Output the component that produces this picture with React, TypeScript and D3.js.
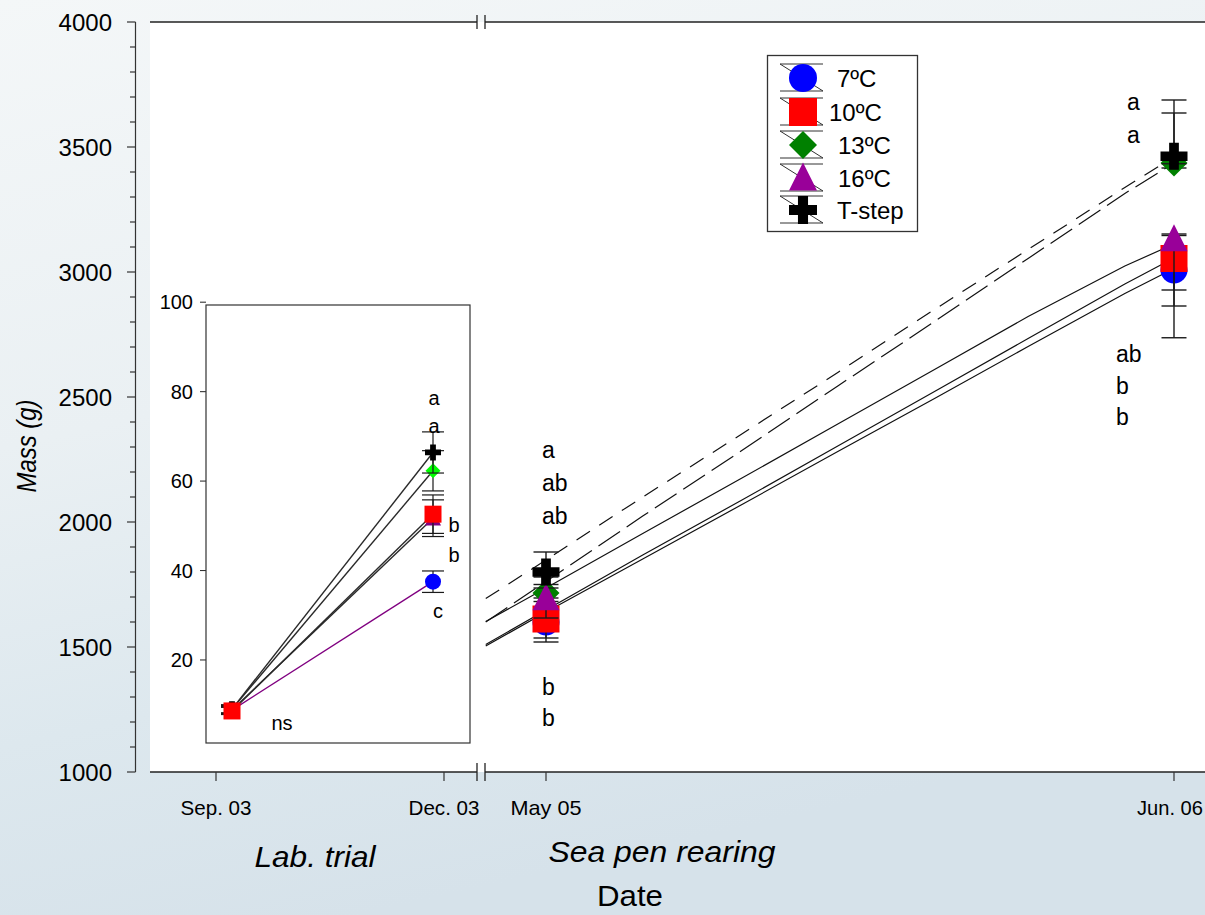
import React from "react";
import * as d3 from "d3";

const FONT = "'Liberation Sans', Arial, Helvetica, sans-serif";

// ---------- categories ----------
const seriesNames = ["7ºC", "10ºC", "13ºC", "16ºC", "T-step"];

// ---------- Lab trial (inset), mass in g ----------
const labDates = ["2003-09-01", "2003-12-01"];
const labMass7 = [8.8, 37.5];
const labMass10 = [8.6, 52.6];
const labMass13 = [9.0, 62.3];
const labMass16 = [8.8, 51.7];
const labMassT = [9.0, 66.4];
const labErr7 = [0.8, 2.4];
const labErr10 = [0.8, 4.3];
const labErr13 = [0.8, 4.5];
const labErr16 = [0.8, 4.1];
const labErrT = [1.0, 4.6];
const labEndLetters = ["a", "a", "b", "b", "c"];
const labStartLetter = "ns";
const insetTicks = [20, 40, 60, 80, 100];

// ---------- Sea pen rearing, mass in g ----------
const seaDates = ["2005-05-01", "2006-06-01"];
const seaMass7 = [1600, 3008];
const seaMass10 = [1612, 3054];
const seaMass13 = [1716, 3436];
const seaMass16 = [1696, 3132];
const seaMassT = [1800, 3463];
const seaErrUp7 = [60, 70];
const seaErrDown7 = [80, 80];
const seaErrUp10 = [70, 92];
const seaErrDown10 = [76, 190];
const seaErrUp13 = [64, 200];
const seaErrDown13 = [20, 20];
const seaErrUp16 = [40, 20];
const seaErrDown16 = [80, 395];
const seaErrUpT = [80, 225];
const seaErrDownT = [50, 30];
const mayLetters = ["a", "ab", "ab", "b", "b"];
const junLetters = ["a", "a", "ab", "b", "b"];

// ---------- growth curves (sea pen) ----------
const curveDates = [
  "2005-03-24", "2005-05-01", "2005-07-01", "2005-09-01", "2005-11-01",
  "2006-01-01", "2006-03-01", "2006-05-01", "2006-06-01",
];
const curve7 = [1504, 1640, 1852, 2068, 2282, 2494, 2702, 2914, 3014];
const curve10 = [1510, 1648, 1868, 2086, 2304, 2522, 2734, 2952, 3056];
const curve13 = [1600, 1762, 2024, 2284, 2544, 2802, 3054, 3314, 3436];
const curve16 = [1602, 1736, 1954, 2174, 2392, 2610, 2822, 3024, 3112];
const curveT = [1694, 1848, 2100, 2350, 2598, 2850, 3090, 3338, 3460];

// ---------- axes ----------
const mainYMajor = [1000, 1500, 2000, 2500, 3000, 3500, 4000];
const xTickDates = ["2003-09-01", "2003-12-01", "2005-05-01", "2006-06-01"];
const xTickLabels = ["Sep. 03", "Dec. 03", "May 05", "Jun. 06"];

// ---------- styles (not data) ----------
type Shape = "circle" | "square" | "diamond" | "triangle" | "cross";
const shapeOf: Record<string, Shape> = {
  "7ºC": "circle", "10ºC": "square", "13ºC": "diamond", "16ºC": "triangle", "T-step": "cross",
};
const mainColor: Record<string, string> = {
  "7ºC": "#0000ff", "10ºC": "#ff0000", "13ºC": "#008000", "16ºC": "#990099", "T-step": "#000000",
};
const insetColor: Record<string, string> = {
  "7ºC": "#0000ff", "10ºC": "#ff0000", "13ºC": "#00ff00", "16ºC": "#800080", "T-step": "#000000",
};
const curveDash: Record<string, string | undefined> = {
  "7ºC": undefined, "10ºC": undefined, "13ºC": "26,8", "16ºC": undefined, "T-step": "16,11",
};

const parse = d3.timeParse("%Y-%m-%d") as (s: string) => Date;

function Marker({ shape, x, y, s, color }: { shape: Shape; x: number; y: number; s: number; color: string }) {
  const h = s / 2;
  if (shape === "circle") return <circle cx={x} cy={y} r={h} fill={color} />;
  if (shape === "square") return <rect x={x - h} y={y - h} width={s} height={s} fill={color} />;
  if (shape === "diamond")
    return <polygon points={`${x},${y - h} ${x + h},${y} ${x},${y + h} ${x - h},${y}`} fill={color} />;
  if (shape === "triangle")
    return (
      <polygon
        points={`${x},${y - s * 0.55} ${x + h},${y + s * 0.45} ${x - h},${y + s * 0.45}`}
        fill={color}
      />
    );
  const t = s * 0.36;
  const a = t / 2;
  const d = `M${x - a},${y - h}H${x + a}V${y - a}H${x + h}V${y + a}H${x + a}V${y + h}H${x - a}V${y + a}H${x - h}V${y - a}H${x - a}Z`;
  return <path d={d} fill={color} />;
}

function ErrBar({ x, y1, y2, cap, w }: { x: number; y1: number; y2: number; cap: number; w: number }) {
  return (
    <g stroke="#1a1a1a" strokeWidth={w} fill="none">
      <line x1={x} x2={x} y1={y1} y2={y2} />
      <line x1={x - cap / 2} x2={x + cap / 2} y1={y1} y2={y1} />
      <line x1={x - cap / 2} x2={x + cap / 2} y1={y2} y2={y2} />
    </g>
  );
}

export default function App() {
  const W = 1205;
  const H = 915;

  const yMain = d3.scaleLinear().domain([1000, 4000]).range([772, 22]);
  const xLab = d3.scaleTime().domain([parse("2003-09-01"), parse("2003-12-01")]).range([216, 444]);
  const xSea = d3.scaleTime().domain([parse("2005-05-01"), parse("2006-06-01")]).range([546, 1174]);
  const xIn = d3.scaleTime().domain([parse("2003-09-01"), parse("2003-12-01")]).range([232, 433]);
  const yIn = d3.scaleLinear().domain([0, 100]).range([749.4, 302.2]);

  const mainMinor = d3.range(1000, 4001, 100).filter((v) => !mainYMajor.includes(v));

  const labMass = [labMass7, labMass10, labMass13, labMass16, labMassT];
  const labErr = [labErr7, labErr10, labErr13, labErr16, labErrT];
  const seaMass = [seaMass7, seaMass10, seaMass13, seaMass16, seaMassT];
  const seaUp = [seaErrUp7, seaErrUp10, seaErrUp13, seaErrUp16, seaErrUpT];
  const seaDown = [seaErrDown7, seaErrDown10, seaErrDown13, seaErrDown16, seaErrDownT];
  const curves = [curve7, curve10, curve13, curve16, curveT];

  const seaLine = d3
    .line<[Date, number]>()
    .x((d) => xSea(d[0]))
    .y((d) => yMain(d[1]));

  const inLine = d3
    .line<[Date, number]>()
    .x((d) => xIn(d[0]))
    .y((d) => yIn(d[1]));

  const mainOrder = [0, 1, 2, 3, 4];
  const insetOrder = [0, 3, 2, 4, 1];

  const xTickX = xTickDates.map((d, i) => (i < 2 ? xLab(parse(d)) : xSea(parse(d))));

  const legendRows = [78, 112, 145, 178, 210];
  const legendTextX = [837, 829, 838, 838, 837];

  return (
    <svg
      width={W}
      height={H}
      style={{ position: "absolute", left: 0, top: 0, display: "block" }}
      fontFamily={FONT}
    >
      <defs>
        <linearGradient id="bg" x1="0" y1="0" x2="0.3" y2="1">
          <stop offset="0" stopColor="#f4f7f8" />
          <stop offset="0.45" stopColor="#eaf0f3" />
          <stop offset="0.75" stopColor="#dde8ee" />
          <stop offset="1" stopColor="#d6e2ea" />
        </linearGradient>
      </defs>
      <rect x={0} y={0} width={W} height={H} fill="url(#bg)" />

      {/* main white panel */}
      <rect x={150} y={22} width={W - 150} height={750} fill="#ffffff" />

      {/* frame top & bottom with breaks */}
      <g stroke="#222" strokeWidth={1.3}>
        <line x1={150} x2={477} y1={22} y2={22} />
        <line x1={485} x2={W} y1={22} y2={22} />
        <line x1={477} x2={477} y1={15} y2={29} />
        <line x1={485} x2={485} y1={15} y2={29} />
        <line x1={150} x2={477} y1={772} y2={772} />
        <line x1={485} x2={W} y1={772} y2={772} />
        <line x1={477} x2={477} y1={763} y2={781} />
        <line x1={485} x2={485} y1={763} y2={781} />
      </g>

      {/* main y axis */}
      <g stroke="#333" strokeWidth={1.2}>
        <line x1={135.5} x2={135.5} y1={yMain(4000)} y2={yMain(1000)} />
        {mainYMajor.map((v) => (
          <line key={v} x1={127} x2={135.5} y1={yMain(v)} y2={yMain(v)} />
        ))}
        {mainMinor.map((v) => (
          <line key={v} x1={130} x2={135.5} y1={yMain(v)} y2={yMain(v)} />
        ))}
      </g>
      {mainYMajor.map((v) => (
        <text key={v} x={112} y={yMain(v)} dy="0.36em" textAnchor="end" fontSize={24} fill="#000">
          {v}
        </text>
      ))}
      <text
        transform={`translate(36,446) rotate(-90)`}
        textAnchor="middle"
        fontSize={27}
        fontStyle="italic"
        textLength={93}
        lengthAdjust="spacingAndGlyphs"
      >
        Mass (g)
      </text>

      {/* x ticks */}
      <g stroke="#333" strokeWidth={1.2}>
        {xTickX.map((x, i) => (
          <line key={i} x1={x} x2={x} y1={772} y2={781} />
        ))}
      </g>
      {xTickX.map((x, i) => {
        const last = i === xTickX.length - 1;
        return (
          <text
            key={i}
            x={last ? 1203 : x}
            y={815}
            textAnchor={last ? "end" : "middle"}
            fontSize={21}
            textLength={last ? 66 : 71}
            lengthAdjust="spacingAndGlyphs"
          >
            {xTickLabels[i]}
          </text>
        );
      })}
      <text x={315} y={867} textAnchor="middle" fontSize={29} fontStyle="italic" textLength={121} lengthAdjust="spacingAndGlyphs">
        Lab. trial
      </text>
      <text x={662} y={862} textAnchor="middle" fontSize={29} fontStyle="italic" textLength={227} lengthAdjust="spacingAndGlyphs">
        Sea pen rearing
      </text>
      <text x={630} y={906} textAnchor="middle" fontSize={29} textLength={66} lengthAdjust="spacingAndGlyphs">
        Date
      </text>

      {/* growth curves */}
      {mainOrder.map((i) => (
        <path
          key={"c" + i}
          d={seaLine(curveDates.map((d, k) => [parse(d), curves[i][k]]))!}
          fill="none"
          stroke="#111"
          strokeWidth={1.2}
          strokeDasharray={curveDash[seriesNames[i]]}
        />
      ))}

      {/* sea pen points */}
      {seaDates.map((d, k) => {
        const x = xSea(parse(d));
        return (
          <g key={"s" + k}>
            {mainOrder.map((i) => {
              const name = seriesNames[i];
              const m = seaMass[i][k];
              return (
                <g key={i}>
                  <ErrBar x={x} y1={yMain(m + seaUp[i][k])} y2={yMain(m - seaDown[i][k])} cap={25} w={1.4} />
                  <Marker shape={shapeOf[name]} x={x} y={yMain(m)} s={27} color={mainColor[name]} />
                </g>
              );
            })}
          </g>
        );
      })}

      {/* significance letters, sea pen */}
      <g fontSize={23} fill="#000">
        {mayLetters.map((l, i) => (
          <text key={i} x={542} y={[458, 491, 524, 695, 726][i]}>
            {l}
          </text>
        ))}
        {junLetters.map((l, i) => (
          <text key={i} x={[1127, 1127, 1116, 1116, 1116][i]} y={[110, 143, 362, 394, 425][i]}>
            {l}
          </text>
        ))}
      </g>

      {/* ---------- inset ---------- */}
      <rect x={206} y={305} width={264} height={438} fill="#fff" stroke="#333" strokeWidth={1.2} />
      <g stroke="#333" strokeWidth={1.1}>
        {insetTicks.map((v) => (
          <line key={v} x1={200} x2={206} y1={yIn(v)} y2={yIn(v)} />
        ))}
      </g>
      {insetTicks.map((v) => (
        <text key={v} x={193} y={yIn(v)} dy="0.36em" textAnchor="end" fontSize={20}>
          {v}
        </text>
      ))}

      {insetOrder.map((i) => (
        <path
          key={"il" + i}
          d={inLine(labDates.map((d, k) => [parse(d), labMass[i][k]]))!}
          fill="none"
          stroke={seriesNames[i] === "7ºC" ? "#800080" : "#2a2a2a"}
          strokeWidth={1.4}
        />
      ))}
      {labDates.map((d, k) => {
        const x = xIn(parse(d));
        return (
          <g key={"l" + k}>
            {insetOrder.map((i) => {
              const name = seriesNames[i];
              const m = labMass[i][k];
              return (
                <g key={i}>
                  <ErrBar
                    x={k === 0 ? x - 5 : x}
                    y1={yIn(m + labErr[i][k])}
                    y2={yIn(m - labErr[i][k])}
                    cap={k === 0 ? 12 : 22}
                    w={1.2}
                  />
                  <Marker
                    shape={shapeOf[name]}
                    x={x}
                    y={yIn(m)}
                    s={name === "10ºC" ? 17 : name === "13ºC" ? 15 : 16}
                    color={insetColor[name]}
                  />
                </g>
              );
            })}
          </g>
        );
      })}
      <g fontSize={20} fill="#000">
        {labEndLetters.map((l, i) => (
          <text key={i} x={[434, 434, 454, 454, 438][i]} y={[405, 433, 532, 562, 618][i]} textAnchor="middle">
            {l}
          </text>
        ))}
        <text x={282} y={730} textAnchor="middle">
          {labStartLetter}
        </text>
      </g>

      {/* ---------- legend ---------- */}
      <rect x={767.5} y={55.5} width={150} height={176} fill="#fff" stroke="#333" strokeWidth={1.3} />
      {seriesNames.map((name, i) => {
        const cy = legendRows[i];
        return (
          <g key={name}>
            <g stroke="#333" strokeWidth={1}>
              <line x1={780} x2={823} y1={cy - 14} y2={cy - 14} />
              <line x1={780} x2={823} y1={cy + 13} y2={cy + 13} />
              <line x1={780} x2={823} y1={cy - 14} y2={cy + 13} />
            </g>
            <Marker shape={shapeOf[name]} x={803} y={cy} s={28} color={mainColor[name]} />
            <text x={legendTextX[i]} y={cy} dy="0.36em" fontSize={24}>
              {name}
            </text>
          </g>
        );
      })}
    </svg>
  );
}
